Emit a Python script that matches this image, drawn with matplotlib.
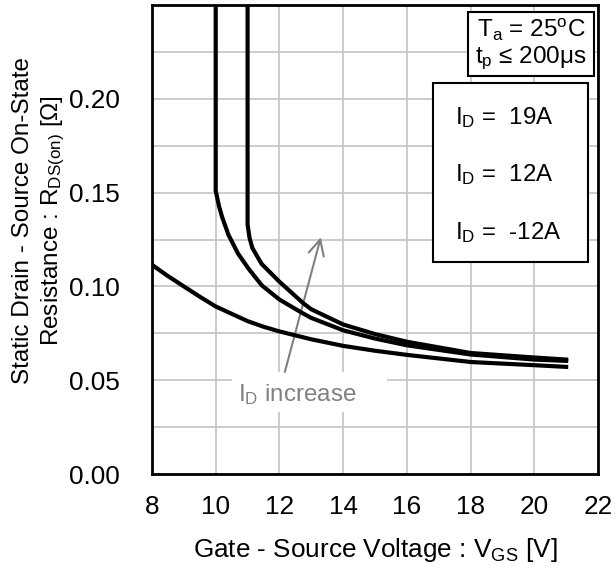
import matplotlib
matplotlib.use('Agg')
import matplotlib.pyplot as plt
from matplotlib.patches import Rectangle

plt.rcParams['font.family'] = ['Liberation Sans', 'DejaVu Sans']
plt.rcParams['mathtext.fontset'] = 'custom'
plt.rcParams['mathtext.rm'] = 'Liberation Sans'
plt.rcParams['mathtext.it'] = 'Liberation Sans:italic'

# curves: V_GS [V] and R_DS(on) [ohm]
vgs_19a = [10.0, 10.0, 10.1, 10.2, 10.4, 10.7, 11.05, 11.45, 12.0, 12.75, 13.0, 14.0, 15.0, 16.0, 18.0, 20.0, 21.0]
rds_19a = [0.26, 0.151, 0.143, 0.137, 0.1275, 0.1175, 0.109, 0.1005, 0.093, 0.0855, 0.0832, 0.0766, 0.0722, 0.0686, 0.0637, 0.061, 0.0603]

vgs_12a = [11.0, 11.0, 11.06, 11.15, 11.44, 12.0, 12.75, 13.0, 14.0, 15.0, 16.0, 18.0, 20.0, 21.0]
rds_12a = [0.26, 0.133, 0.126, 0.1205, 0.112, 0.1025, 0.091, 0.0878, 0.0797, 0.0746, 0.0705, 0.0645, 0.0621, 0.061]

vgs_m12a = [8.0, 8.5, 9.0, 9.5, 10.0, 11.0, 11.5, 12.0, 13.0, 14.0, 15.0, 16.0, 18.0, 20.0, 21.0]
rds_m12a = [0.1115, 0.1055, 0.1, 0.0945, 0.0893, 0.0815, 0.0785, 0.076, 0.0718, 0.0683, 0.0657, 0.0635, 0.0597, 0.058, 0.0571]

x_ticks = [8, 10, 12, 14, 16, 18, 20, 22]
y_ticks = [0.00, 0.05, 0.10, 0.15, 0.20]
id_labels = [r'I$_\mathrm{D}$ =  19A', r'I$_\mathrm{D}$ =  12A', r'I$_\mathrm{D}$ =  -12A']

fig = plt.figure(figsize=(6.16, 5.71), dpi=100)
ax = fig.add_axes([152 / 616, 1 - 474 / 571, 446 / 616, 469 / 571])

for v, r in [(vgs_19a, rds_19a), (vgs_12a, rds_12a), (vgs_m12a, rds_m12a)]:
    ax.plot(v, r, color='black', lw=3.0, zorder=3, solid_joinstyle='round')

ax.set_xlim(8, 22)
ax.set_ylim(0, 0.25)
ax.set_xticks(x_ticks)
ax.set_yticks(y_ticks)
ax.set_yticklabels(['%.2f' % t for t in y_ticks])
ax.set_yticks([0.025 + 0.05 * i for i in range(5)], minor=True)
ax.set_axisbelow(True)
ax.grid(True, which='both', color='#c4c4c4', lw=1.2)
ax.tick_params(which='both', length=0, labelsize=18.8)
ax.tick_params(axis='x', pad=15)
ax.tick_params(axis='y', pad=23)
for s in ax.spines.values():
    s.set_linewidth(2)

ax.set_xlabel(r'Gate - Source Voltage : V$_\mathrm{GS}$ [V]', fontsize=18.8, labelpad=12)
ax.set_ylabel('Static Drain - Source On-State\n' + r'Resistance : R$_\mathrm{DS(on)}$ [$\Omega$]',
              fontsize=17.5, linespacing=1.3)
ax.yaxis.set_label_coords(-0.19, 0.54)

# condition box
ax.add_patch(Rectangle((0.7085, 0.8486), 0.2825, 0.1364, transform=ax.transAxes,
                       facecolor='white', edgecolor='black', lw=1.5, zorder=4))
ax.text(0.85, 0.946, r'T$_\mathrm{a}$ = 25$^\mathrm{o}$C', transform=ax.transAxes,
        ha='center', va='center', fontsize=17.5, zorder=5)
ax.text(0.85, 0.887, r't$_\mathrm{p}$ ≤ 200μs', transform=ax.transAxes,
        ha='center', va='center', fontsize=17.5, zorder=5)

# current box
ax.add_patch(Rectangle((0.630, 0.452), 0.3476, 0.3817, transform=ax.transAxes,
                       facecolor='white', edgecolor='black', lw=1.5, zorder=4))
for yy, lab in zip([0.761, 0.6375, 0.514], id_labels):
    ax.text(0.679, yy, lab, transform=ax.transAxes, ha='left', va='center',
            fontsize=17.3, zorder=5)

# I_D increase annotation
ax.add_patch(Rectangle((10.51, 0.033), 4.87, 0.0213, facecolor='white',
                       edgecolor='none', zorder=1.5))
ax.text(12.56, 0.0388, r'I$_\mathrm{D}$ increase', color='#808080', ha='center',
        va='baseline', fontsize=17.4, zorder=2)
ax.annotate('', xy=(13.3, 0.1262), xytext=(12.17, 0.0544),
            arrowprops=dict(arrowstyle='->', color='#808080', lw=1.5,
                            mutation_scale=28, shrinkA=0, shrinkB=0), zorder=2)

fig.savefig('out.png', dpi=100)
